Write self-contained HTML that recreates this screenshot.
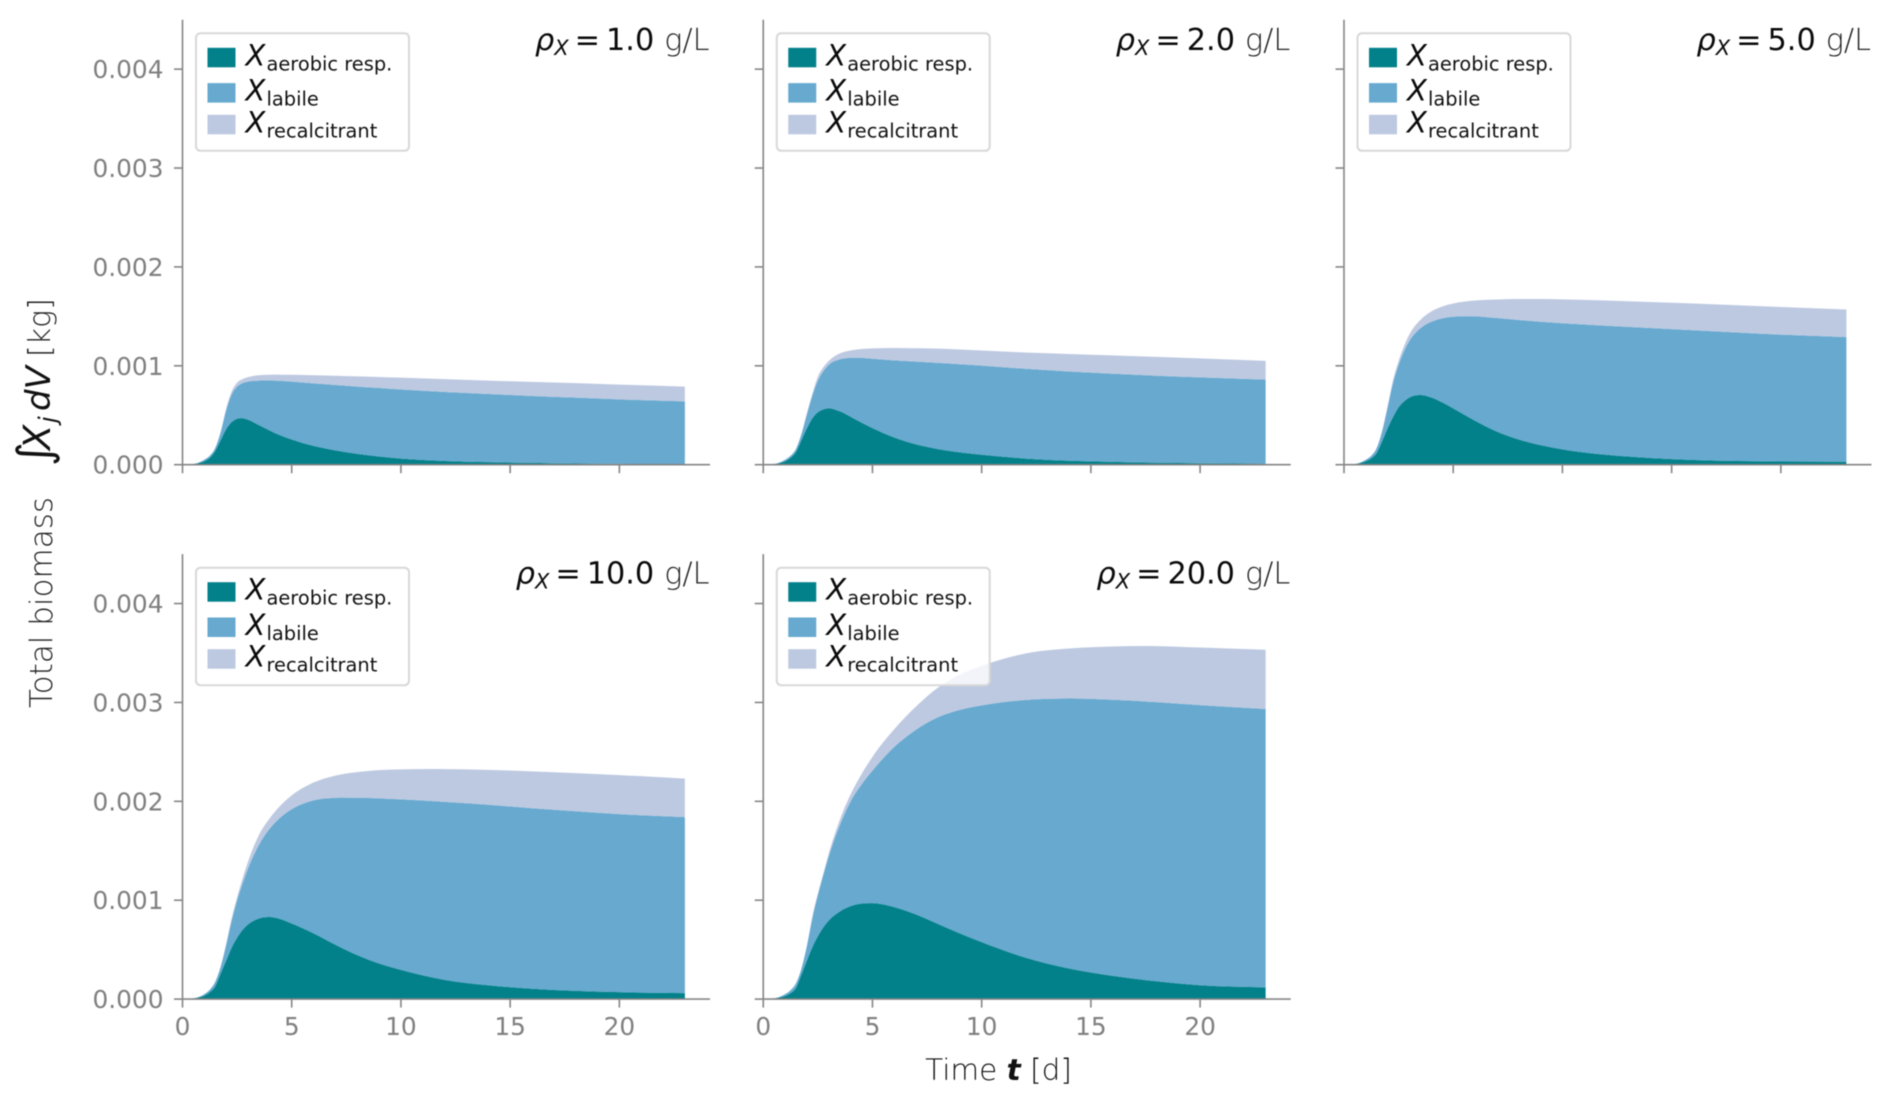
<!DOCTYPE html>
<html lang="en">
<head>
<meta charset="utf-8">
<title>Total biomass over time</title>
<style>
html,body{margin:0;padding:0;background:#fff;width:1892px;height:1103px;overflow:hidden}
svg{display:block;filter:blur(.6px)}
text{font-family:"DejaVu Sans","Liberation Sans",sans-serif}
</style>
</head>
<body>
<svg id="chart" xmlns="http://www.w3.org/2000/svg" width="1892" height="1103" viewBox="0 0 1892 1103">
  <text transform="translate(52,708) rotate(-90)" font-size="31" font-weight="200" fill="#222">Total biomass</text>
  <text transform="translate(50,466) rotate(-90)" font-size="31" fill="#111"><tspan font-size="46" x="0">∫</tspan><tspan font-style="italic" font-size="37" x="16">X</tspan><tspan font-style="italic" font-size="24" x="43" dy="6">j</tspan><tspan font-style="italic" font-size="34" x="55" dy="-6">dV</tspan><tspan font-weight="200" fill="#222" font-size="30" x="109">[kg]</tspan></text>
  <text x="998.5" y="1080" text-anchor="middle" font-size="29.5" font-weight="200" fill="#111">Time <tspan font-weight="700" font-style="italic">t</tspan> [d]</text>
</svg>
<script>
// Sample times in days, shared by every panel
const times = [0,0.5,0.75,1,1.25,1.5,1.75,2,2.25,2.5,2.75,3,3.5,4,4.5,5,6,7,8,9,10,12,14,16,18,20,23];
// Series values are in units of 1e-5 kg
const valueUnit = 1e-5;
const aerobicRho1 = [0,0.6,1.7,3.5,7,14,25,36,43,46.5,47,45.5,40,34.5,29.5,25.5,19,14.5,11,8.3,6.2,3.8,2.6,1.8,1.2,0.8,0.5];
const labileRho1 = [0,0.2,0.5,1.5,2,3,8,19,28,32.5,35.5,38.5,45,50.7,55.3,58.5,63.2,66.1,68,69.2,69.8,69.7,68.9,67.7,66.6,65.2,63.5];
const recalcitrantRho1 = [0,0,0,0,0,0,0.5,2,3,4,4,4.5,5.5,5.8,6.2,7,8.3,9.4,10.3,11.2,12,13,13.5,14.3,14.7,15,15];
const aerobicRho2 = [0,0.6,1.7,3.5,7,13,25,37,47,53,56,57,54,48.5,42.5,37,27.5,20.5,15.8,12.5,10,6.2,4,2.8,2,1.5,1];
const labileRho2 = [0,0.2,0.5,1.5,2,3,6,14,23,32,38.5,44,52.5,59.5,65.5,70.2,78,83.7,87.2,89.1,90.2,90.8,90.3,89.2,88,86.8,85];
const recalcitrantRho2 = [0,0,0,0,0,0,0.5,1.5,2,4,4,4,6,7.5,9,10.4,12.5,13.6,14.4,14.9,15.3,16.5,17.7,18.5,19,19.2,19];
const aerobicRho5 = [0,0.6,1.7,3.5,6.5,12,24,37,48.5,58,64,68,70.5,68,63,57,44.5,33.5,25.5,19.8,15.5,10,6.8,4.8,3.7,3.2,3];
const labileRho5 = [0,0.2,0.5,1.5,2.5,5,10,21,34.5,43,51,57.5,67.5,76.5,85,92.6,105.5,114.8,120.8,124.7,127.5,130.5,131.4,131.2,130,128.3,126];
const recalcitrantRho5 = [0,0,0,0,0,0,1,2,3,4,5,6.5,8.5,10.5,12,13.4,16,18.7,21.2,23,24.2,25.5,26.3,27,27.5,28,28];
const aerobicRho10 = [0,0.6,1.7,3.5,7,13,26,39,52,62,70,75.5,81.5,83,80.8,76.5,66.5,55,44.5,36,29.5,19.5,14,10.5,8.3,7,6];
const labileRho10 = [0,0.2,0.5,1.5,2.5,4.5,7,16,27,38,47,56.5,74.5,89.5,103.2,115.5,134.5,148.5,159,167,172.5,180,182.5,182.5,181.7,180,178];
const recalcitrantRho10 = [0,0,0,0,0,0,0,1,3,3,5,7,10,10.5,12,14,18,22.5,26,28.5,30.3,33.1,35.3,37.3,38.5,39.5,39];
const aerobicRho20 = [0,0.6,1.7,3.2,6,11.5,25,39,52.5,63.5,72.5,79.5,88.5,94,96.5,97,93,85.5,76,66.5,57.6,42,31,23.5,18,14,11.8];
const labileRho20 = [0,0.2,0.5,1.8,3,4.5,6,15,29.5,41.5,53,65,87,106,120.5,134,162,187,209,226,239.4,260.5,273,279.2,282.3,283.3,281.6];
const recalcitrantRho20 = [0,0,0,0,0,0,0,0,2,2,1.5,3,5.5,7,10.5,14,18,23.5,30,35.5,40,47,50.5,53.8,56.7,58.2,59.9];
// Panel labels and axis ticks
const densityLabels = ['1.0','2.0','5.0','10.0','20.0'];
const xTicks = [0,5,10,15,20];
const xTickLabels = ['0','5','10','15','20'];
const yTicks = [0,0.001,0.002,0.003,0.004];
const yTickLabels = ['0.000','0.001','0.002','0.003','0.004'];
const seriesNames = ['aerobic-resp','labile','recalcitrant'];
const legendSubscripts = ['aerobic resp.','labile','recalcitrant'];

const panelSeries = [
  [aerobicRho1,labileRho1,recalcitrantRho1],
  [aerobicRho2,labileRho2,recalcitrantRho2],
  [aerobicRho5,labileRho5,recalcitrantRho5],
  [aerobicRho10,labileRho10,recalcitrantRho10],
  [aerobicRho20,labileRho20,recalcitrantRho20]
];

const seriesColors = ['#02818a','#67a9cf','#bdc9e1'];
const axisColor = '#858585';
const tickTextColor = '#7f7f7f';
const xDomainMax = 24.15, yDomainMax = 0.0045;
const plotWidth = 527.5, plotHeight = 445;
const svg = document.getElementById('chart');
const NS = 'http://www.w3.org/2000/svg';

function make(tag, attrs, text){
  const el = document.createElementNS(NS, tag);
  for(const k in attrs) el.setAttribute(k, attrs[k]);
  if(text !== undefined) el.textContent = text;
  return el;
}
function smoothPath(pts){
  const n = pts.length, h = [], s = [], m = [];
  for(let i=0;i<n-1;i++){
    h.push(pts[i+1][0]-pts[i][0]);
    s.push((pts[i+1][1]-pts[i][1])/h[i]);
  }
  m[0] = s[0];
  m[n-1] = s[n-2];
  for(let i=1;i<n-1;i++) m[i] = (h[i]*s[i-1]+h[i-1]*s[i])/(h[i-1]+h[i]);
  let d = '';
  for(let i=0;i<n-1;i++){
    const t = h[i]/3;
    d += 'C'+(pts[i][0]+t).toFixed(2)+','+(pts[i][1]+m[i]*t).toFixed(2)+','+(pts[i+1][0]-t).toFixed(2)+','+(pts[i+1][1]-m[i+1]*t).toFixed(2)+','+pts[i+1][0].toFixed(2)+','+pts[i+1][1].toFixed(2);
  }
  return d;
}

panelSeries.forEach(function(series, p){
  const col = p % 3, row = Math.floor(p / 3);
  const x0 = 182.5 + col*580.75;
  const base = 464.7 + row*534.4;
  const xScale = function(t){ return x0 + t/xDomainMax*plotWidth; };
  const yScale = function(v){ return base - v/yDomainMax*plotHeight; };

  const panel = make('g', {});
  
  
  svg.appendChild(panel);

  // Stacked areas
  let lower = times.map(function(){ return 0; });
  series.forEach(function(values, s){
    const upper = values.map(function(v,i){ return lower[i] + v*valueUnit; });
    const up = times.map(function(t,i){ return [xScale(t), Math.min(yScale(upper[i]), base)]; });
    const low = times.map(function(t,i){ return [xScale(t), yScale(lower[i])]; }).reverse();
    const d = 'M'+up[0][0].toFixed(2)+','+up[0][1].toFixed(2)+smoothPath(up)+'L'+low[0][0].toFixed(2)+','+low[0][1].toFixed(2)+smoothPath(low)+'Z';
    const area = make('path', {d:d, fill:seriesColors[s]});
    
    
    panel.appendChild(area);
    lower = upper;
  });

  // Axis spines
  const ySpine = make('line', {x1:x0, x2:x0, y1:yScale(yDomainMax), y2:base, stroke:axisColor, 'stroke-width':1.6});
  
  
  panel.appendChild(ySpine);
  const xSpine = make('line', {x1:x0, x2:xScale(xDomainMax), y1:base, y2:base, stroke:axisColor, 'stroke-width':1.6});
  
  
  panel.appendChild(xSpine);

  // Y ticks
  yTicks.forEach(function(v, i){
    const tick = make('line', {x1:x0-8.5, x2:x0, y1:yScale(v), y2:yScale(v), stroke:axisColor, 'stroke-width':1.6});
    
    
    panel.appendChild(tick);
    if(col === 0){
      const label = make('text', {x:x0-19, y:yScale(v)+9, 'text-anchor':'end', 'font-size':24.8, fill:tickTextColor}, yTickLabels[i]);
      
      
      panel.appendChild(label);
    }
  });

  // X ticks
  xTicks.forEach(function(t, i){
    const tick = make('line', {x1:xScale(t), x2:xScale(t), y1:base, y2:base+8.5, stroke:axisColor, 'stroke-width':1.6});
    
    
    panel.appendChild(tick);
    if(row === 1){
      const label = make('text', {x:xScale(t), y:base+36, 'text-anchor':'middle', 'font-size':24.8, fill:tickTextColor}, xTickLabels[i]);
      
      
      panel.appendChild(label);
    }
  });

  // Panel title
  const title = make('text', {x:x0+527, y:base-414.7-row*0.8, 'text-anchor':'end', 'font-size':30.3, fill:'#0a0a0a'});
  
  
  title.appendChild(make('tspan', {'font-style':'italic'}, 'ρ'));
  title.appendChild(make('tspan', {'font-style':'italic','font-size':21,dy:5}, 'X'));
  title.appendChild(make('tspan', {dy:-5,dx:6}, '='));
  title.appendChild(make('tspan', {dx:6}, densityLabels[p]));
  title.appendChild(make('tspan', {dx:10,'font-weight':200,fill:'#222'}, 'g/L'));
  panel.appendChild(title);

  // Legend
  const lx = x0 + 13.5, ly = base - 431.4;
  const legend = make('g', {transform:'translate('+lx+','+ly+')'});
  
  
  panel.appendChild(legend);
  const frame = make('rect', {x:0, y:0, width:213, height:117.5, rx:4.5, fill:'#fff', 'fill-opacity':0.8, stroke:'#d8d8d8', 'stroke-width':2});
  
  
  legend.appendChild(frame);
  const patchTops = [14.5, 49.8, 81.5];
  patchTops.forEach(function(top, i){
    const patch = make('rect', {x:11.5, y:top, width:28, height:19.5, fill:seriesColors[i]});
    
    
    legend.appendChild(patch);
    const sym = make('text', {x:49.5, y:top+17.5, 'font-size':29, 'font-style':'italic', fill:'#0a0a0a'}, 'X');
    
    
    legend.appendChild(sym);
    const sub = make('text', {x:70.5, y:top+22.5, 'font-size':19.4, fill:'#111'}, legendSubscripts[i]);
    
    
    legend.appendChild(sub);
  });
});
</script>
</body>
</html>
